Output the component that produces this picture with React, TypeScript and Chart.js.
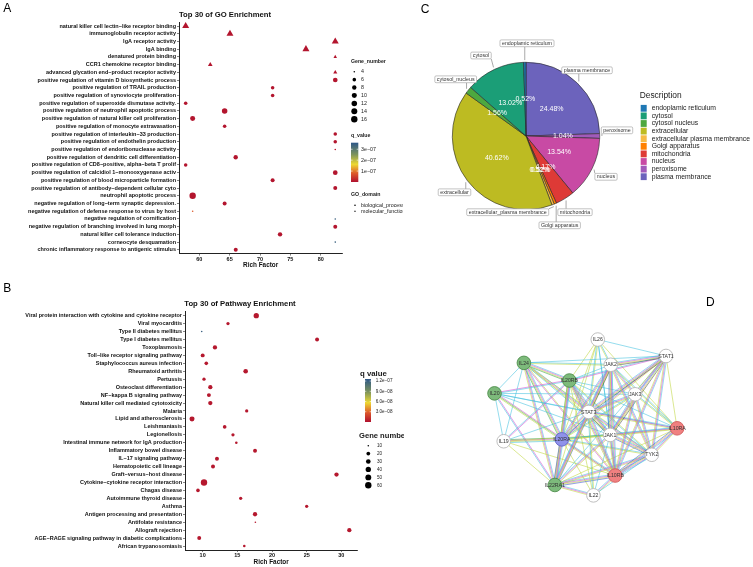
import React, { useEffect, useRef } from 'react';
import { Chart, registerables } from 'chart.js';

Chart.register(...registerables);

const FONT = "'Liberation Sans', Arial, Helvetica, sans-serif";

// ---------------- Panel A : GO enrichment ----------------
const goTerms = [
  'natural killer cell lectin\u2212like receptor binding',
  'immunoglobulin receptor activity',
  'IgA receptor activity',
  'IgA binding',
  'denatured protein binding',
  'CCR1 chemokine receptor binding',
  'advanced glycation end\u2212product receptor activity',
  'positive regulation of vitamin D biosynthetic process',
  'positive regulation of TRAIL production',
  'positive regulation of synoviocyte proliferation',
  'positive regulation of superoxide dismutase activity.',
  'positive regulation of neutrophil apoptotic process',
  'positive regulation of natural killer cell proliferation',
  'positive regulation of monocyte extravasation',
  'positive regulation of interleukin\u221233 production',
  'positive regulation of endothelin production',
  'positive regulation of endoribonuclease activity',
  'positive regulation of dendritic cell differentiation',
  'positive regulation of CD8\u2212positive, alpha\u2212beta T prolif',
  'positive regulation of calcidiol 1\u2212monooxygenase activ',
  'positive regulation of blood microparticle formation',
  'positive regulation of antibody\u2212dependent cellular cyto',
  'neutrophil apoptotic process',
  'negative regulation of long\u2212term synaptic depression.',
  'negative regulation of defense response to virus by host',
  'negative regulation of cornification',
  'negative regulation of branching involved in lung morph',
  'natural killer cell tolerance induction',
  'corneocyte desquamation',
  'chronic inflammatory response to antigenic stimulus',
];
const goRichFactor = [57.75, 65.05, 82.4, 77.57, 82.4, 61.8, 82.4, 82.4, 72.08, 72.08, 57.75, 64.17, 58.9, 64.17, 82.4, 82.4, 82.4, 65.99, 57.75, 82.4, 72.08, 82.4, 58.9, 64.17, 58.9, 82.4, 82.4, 73.3, 82.4, 66.0];
const goGeneNumber = [14, 14, 14, 14, 5, 7, 6, 9, 6, 6, 6, 12, 10, 6, 6, 6, 4, 8, 6, 9, 7, 7, 16, 7, 4, 4, 7, 8, 4, 7];
const goQValue = [5e-9, 5e-9, 5e-9, 5e-9, 5e-9, 5e-9, 5e-9, 5e-9, 5e-9, 5e-9, 5e-9, 5e-9, 5e-9, 5e-9, 5e-9, 5e-9, 8e-9, 5e-9, 5e-9, 5e-9, 5e-9, 5e-9, 5e-9, 5e-9, 8e-8, 3.4e-7, 5e-9, 5e-9, 3.4e-7, 5e-9];
const goDomain = ['MF', 'MF', 'MF', 'MF', 'MF', 'MF', 'MF', 'BP', 'BP', 'BP', 'BP', 'BP', 'BP', 'BP', 'BP', 'BP', 'BP', 'BP', 'BP', 'BP', 'BP', 'BP', 'BP', 'BP', 'BP', 'BP', 'BP', 'BP', 'BP', 'BP'];
const goXTicks = [60, 65, 70, 75, 80];
const goSizeBreaks = [4, 6, 8, 10, 12, 14, 16];
const goQTicks = [3e-7, 2e-7, 1e-7];
const goQTickLabels = ['3e\u221207', '2e\u221207', '1e\u221207'];
const goDomainLabels = ['biological_process', 'molecular_function'];
const GO_Q_MAX = 3.6e-7;

// ---------------- Panel B : pathway enrichment ----------------
const pwTerms = [
  'Viral protein interaction with cytokine and cytokine receptor',
  'Viral myocarditis',
  'Type II diabetes mellitus',
  'Type I diabetes mellitus',
  'Toxoplasmosis',
  'Toll\u2212like receptor signaling pathway',
  'Staphylococcus aureus infection',
  'Rheumatoid arthritis',
  'Pertussis',
  'Osteoclast differentiation',
  'NF\u2212kappa B signaling pathway',
  'Natural killer cell mediated cytotoxicity',
  'Malaria',
  'Lipid and atherosclerosis',
  'Leishmaniasis',
  'Legionellosis',
  'Intestinal immune network for IgA production',
  'Inflammatory bowel disease',
  'IL\u221217 signaling pathway',
  'Hematopoietic cell lineage',
  'Graft\u2212versus\u2212host disease',
  'Cytokine\u2212cytokine receptor interaction',
  'Chagas disease',
  'Autoimmune thyroid disease',
  'Asthma',
  'Antigen processing and presentation',
  'Antifolate resistance',
  'Allograft rejection',
  'AGE\u2212RAGE signaling pathway in diabetic complications',
  'African trypanosomiasis',
];
const pwRichFactor = [17.73, 13.65, 9.86, 26.5, 11.77, 10.0, 10.52, 16.2, 10.19, 11.1, 10.9, 11.1, 16.35, 8.46, 13.17, 14.37, 14.85, 17.55, 12.06, 11.49, 29.3, 10.19, 9.32, 15.48, 25.0, 17.55, 17.6, 31.15, 9.5, 16.0];
const pwGeneNumber = [40, 16, 8, 22, 26, 22, 19, 30, 16, 26, 22, 26, 16, 35, 19, 16, 12, 22, 22, 22, 26, 59, 19, 16, 16, 26, 10, 26, 22, 12];
const pwQValue = [3e-9, 3e-9, 1.2e-7, 3e-9, 3e-9, 3e-9, 3e-9, 3e-9, 3e-9, 3e-9, 3e-9, 3e-9, 3e-9, 3e-9, 3e-9, 3e-9, 3e-9, 3e-9, 3e-9, 3e-9, 3e-9, 3e-9, 3e-9, 3e-9, 3e-9, 3e-9, 3e-9, 3e-9, 3e-9, 3e-9];
const pwXTicks = [10, 15, 20, 25, 30];
const pwSizeBreaks = [10, 20, 30, 40, 50, 60];
const pwQTicks = [1.2e-7, 9e-8, 6e-8, 3e-8];
const pwQTickLabels = ['1.2e\u221207', '9.0e\u221208', '6.0e\u221208', '3.0e\u221208'];
const PW_Q_MAX = 1.26e-7;

// ---------------- Panel C : cellular location pie ----------------
const ccCategories = ['endoplamic reticulum', 'cytosol', 'cytosol nucleus', 'extracellular', 'extracellular plasma membrance', 'Golgi apparatus', 'mitochondria', 'nucleus', 'peroxisome', 'plasma membrance'];
const ccBoxLabels = ['endoplamic reticulum', 'cytosol', 'cytosol_nucleus', 'extracellular', 'extracellular_plasma membrance', 'Golgi apparatus', 'mitochondria', 'nucleus', 'peroxisome', 'plasma membrance'];
const ccPercent = [0.52, 13.02, 1.56, 40.62, 0.52, 0.52, 4.17, 13.54, 1.04, 24.48];
const ccColors = ['#1F78B4', '#1B9E77', '#4DA83F', '#BDBB22', '#F7BB45', '#FF8000', '#DE3A36', '#C84AA4', '#A15BBA', '#6C63BC'];
// label-box layout (page coordinates of box centres)
const ccBoxLayout = [[527, 43.3], [481, 55.5], [455.7, 79.3], [454.5, 192.3], [507.7, 212.2], [559.7, 225.3], [575, 212.2], [606, 176.8], [617, 130.3], [587, 70.3]];

// ---------------- Panel D : PPI network ----------------
const ppiNodes = ['IL26', 'STAT1', 'IL24', 'JAK2', 'IL20RB', 'IL20', 'JAK3', 'STAT3', 'IL10RA', 'JAK1', 'IL19', 'IL20RA', 'TYK2', 'IL10RB', 'IL22RA1', 'IL22'];
const ppiNodeX = [597.3, 669.3, 519.3, 611, 567.3, 488.3, 636.7, 587.7, 681, 610.3, 498, 559.3, 654.3, 615.7, 552, 592.7];
const ppiNodeY = [334.3, 351.7, 359, 361, 377.7, 391.3, 392.3, 411, 428.3, 435.3, 442, 440, 456.3, 478.3, 488.3, 499.3];
const ppiNodeGroup = ['w', 'w', 'g', 'w', 'g', 'g', 'w', 'w', 'r', 'w', 'w', 'b', 'w', 'r', 'g', 'w'];
const ppiEdges = [
  'IL26|STAT1|c', 'IL26|JAK2|cy', 'IL26|IL20RB|y', 'IL26|STAT3|yc', 'IL26|JAK1|c', 'IL26|IL10RB|c', 'IL26|IL20RA|y', 'IL26|IL22RA1|y', 'IL26|IL10RA|y',
  'IL24|STAT1|c', 'IL24|JAK2|cy', 'IL24|IL20RB|cmyg', 'IL24|IL20|c', 'IL24|IL19|c', 'IL24|IL20RA|cmyg', 'IL24|IL22RA1|cmy', 'IL24|STAT3|cmy', 'IL24|JAK1|yc', 'IL24|IL10RB|ym', 'IL24|TYK2|y',
  'IL20|IL20RB|mc', 'IL20|IL20RA|mcy', 'IL20|IL22RA1|mc', 'IL20|STAT3|c', 'IL20|JAK1|c', 'IL20|IL19|c', 'IL20|JAK3|c', 'IL20|IL10RA|c', 'IL20|IL10RB|y',
  'IL19|IL20RB|cm', 'IL19|IL20RA|gmyc', 'IL19|IL22RA1|y', 'IL19|JAK1|y', 'IL19|IL10RB|y', 'IL19|STAT3|c',
  'IL20RB|IL20RA|cmyg', 'IL20RB|IL22RA1|cmy', 'IL20RB|STAT3|cmy', 'IL20RB|JAK1|cmy', 'IL20RB|JAK2|c', 'IL20RB|STAT1|cm', 'IL20RB|IL10RB|cmy', 'IL20RB|TYK2|yc', 'IL20RB|JAK3|c', 'IL20RB|IL10RA|c',
  'IL20RA|STAT3|cmyb', 'IL20RA|JAK1|gy', 'IL20RA|IL22RA1|cmyb', 'IL20RA|IL10RB|cmy', 'IL20RA|JAK2|cmy', 'IL20RA|STAT1|cmy', 'IL20RA|IL22|y', 'IL20RA|TYK2|cy', 'IL20RA|IL10RA|cy', 'IL20RA|JAK3|cy',
  'IL22RA1|STAT3|cmyb', 'IL22RA1|JAK1|cmy', 'IL22RA1|IL10RB|cmyb', 'IL22RA1|IL22|cmy', 'IL22RA1|TYK2|cmy', 'IL22RA1|JAK2|cmy', 'IL22RA1|STAT1|c', 'IL22RA1|IL10RA|y',
  'IL22|IL10RB|cmy', 'IL22|STAT3|cy', 'IL22|JAK1|c', 'IL22|TYK2|c', 'IL22|IL20RB|y',
  'STAT3|JAK1|cmyk', 'STAT3|JAK2|cmyk', 'STAT3|STAT1|cmyk', 'STAT3|JAK3|cmy', 'STAT3|TYK2|cmy', 'STAT3|IL10RA|cmy', 'STAT3|IL10RB|cmy',
  'JAK2|JAK1|cmyb', 'JAK2|STAT1|cmyk', 'JAK2|JAK3|cmy', 'JAK2|TYK2|cmy', 'JAK2|IL10RB|cmy', 'JAK2|IL10RA|cy',
  'JAK1|STAT1|cmyk', 'JAK1|JAK3|cmy', 'JAK1|TYK2|cmyb', 'JAK1|IL10RA|cmy', 'JAK1|IL10RB|cmy',
  'STAT1|JAK3|cmy', 'STAT1|TYK2|cmy', 'STAT1|IL10RA|y', 'STAT1|IL10RB|cmy',
  'JAK3|TYK2|cmy', 'JAK3|IL10RA|cy', 'JAK3|IL10RB|cmy', 'TYK2|IL10RA|cmy', 'TYK2|IL10RB|cmyb', 'IL10RA|IL10RB|cmyb',
];

// ---------------- styles ----------------
const Q_STOPS: [number, string][] = [[0, '#B0102E'], [0.22, '#DD5A2B'], [0.45, '#EDD933'], [0.7, '#7D935B'], [1, '#2D5788']];
const EDGE_COLORS: Record<string, string> = { c: 'rgba(64,192,222,0.8)', y: 'rgba(190,214,60,0.8)', m: 'rgba(210,75,210,0.8)', b: 'rgba(55,85,208,0.8)', g: 'rgba(55,160,65,0.8)', k: 'rgba(50,50,50,0.7)' };
const NODE_FILL: Record<string, string> = { w: '#FFFFFF', g: '#7DBA7B', r: '#F08080', b: '#8F92EA' };
const NODE_STROKE: Record<string, string> = { w: '#B8B8B8', g: '#4E8E4C', r: '#D05A5A', b: '#6568C8' };

function hexRgb(h: string) {
  const n = parseInt(h.slice(1), 16);
  return [(n >> 16) & 255, (n >> 8) & 255, n & 255];
}
function qColor(t: number) {
  t = Math.min(1, Math.max(0, t));
  for (let i = 1; i < Q_STOPS.length; i++) {
    const [p1, c1] = Q_STOPS[i];
    if (t <= p1) {
      const [p0, c0] = Q_STOPS[i - 1];
      const f = (t - p0) / (p1 - p0);
      const a = hexRgb(c0), b = hexRgb(c1);
      return `rgb(${a.map((v, k) => Math.round(v + (b[k] - v) * f)).join(',')})`;
    }
  }
  return Q_STOPS[Q_STOPS.length - 1][1];
}
const rA = (g: number) => 0.8 + 2.4 * Math.sqrt(Math.max(0, g - 4) / 12);
const rB = (g: number) => 0.8 + 2.4 * Math.sqrt(Math.max(0, g - 10) / 50);

function text(ctx: any, s: string, x: number, y: number, size: number, o: any = {}) {
  ctx.save();
  ctx.font = `${o.weight || 'normal'} ${size}px ${FONT}`;
  ctx.fillStyle = o.color || '#1a1a1a';
  ctx.textAlign = o.align || 'left';
  ctx.textBaseline = o.baseline || 'middle';
  ctx.fillText(s, x, y);
  ctx.restore();
}
function dot(ctx: any, x: number, y: number, r: number, color: string) {
  ctx.beginPath();
  ctx.arc(x, y, r, 0, Math.PI * 2);
  ctx.fillStyle = color;
  ctx.fill();
}
function tri(ctx: any, x: number, y: number, r: number, color: string) {
  ctx.beginPath();
  for (let k = 0; k < 3; k++) {
    const a = -Math.PI / 2 + (k * 2 * Math.PI) / 3;
    const px = x + Math.cos(a) * r, py = y + Math.sin(a) * r;
    if (k === 0) ctx.moveTo(px, py); else ctx.lineTo(px, py);
  }
  ctx.closePath();
  ctx.fillStyle = color;
  ctx.fill();
}
function colorbar(ctx: any, x: number, top: number, w: number, h: number, ts: number[]) {
  const g = ctx.createLinearGradient(0, top + h, 0, top);
  Q_STOPS.forEach(([p, c]) => g.addColorStop(p, c));
  ctx.fillStyle = g;
  ctx.fillRect(x, top, w, h);
  ctx.strokeStyle = '#ffffff';
  ctx.lineWidth = 0.6;
  ts.forEach((t) => {
    const y = top + h * (1 - t);
    ctx.beginPath();
    ctx.moveTo(x, y); ctx.lineTo(x + w * 0.22, y);
    ctx.moveTo(x + w * 0.78, y); ctx.lineTo(x + w, y);
    ctx.stroke();
  });
}

function dotChart(canvas: HTMLCanvasElement, p: any) {
  const tickFont = { family: FONT, size: 5.5, weight: 'bold' };
  const grid = { display: true, drawOnChartArea: false, drawTicks: true, tickLength: 2, color: '#333', lineWidth: 0.6 };
  const border = { display: true, color: '#222', width: 1 };
  return new Chart(canvas, {
    type: 'scatter',
    data: {
      datasets: [{
        data: p.terms.map((t: string, i: number) => ({ x: p.rich[i], y: t })),
        pointStyle: (c: any) => p.shape(c.dataIndex),
        pointRadius: (c: any) => p.radius(c.dataIndex),
        pointBackgroundColor: (c: any) => p.color(c.dataIndex),
        pointBorderWidth: 0,
        clip: false,
      }],
    },
    options: {
      responsive: false,
      animation: false,
      events: [],
      layout: { padding: { left: 0, top: p.padTop, right: p.padRight, bottom: p.padBottom } },
      plugins: { legend: { display: false }, tooltip: { enabled: false } },
      scales: {
        x: {
          type: 'linear', min: p.xMin, max: p.xMax,
          afterBuildTicks: (s: any) => { s.ticks = p.xTicks.map((v: number) => ({ value: v })); },
          afterFit: (s: any) => { s.height = p.xHeight; },
          grid, border,
          ticks: { font: tickFont, color: '#111', padding: 0.5, maxRotation: 0 },
          title: { display: true, text: 'Rich Factor', font: { family: FONT, size: 6.4, weight: 'bold' }, color: '#111', padding: { top: 0, bottom: p.titlePad } },
        },
        y: {
          type: 'category', labels: p.terms, offset: true,
          afterFit: (s: any) => { s.width = p.yWidth; },
          grid, border,
          ticks: { font: tickFont, color: '#111', padding: 1, autoSkip: false },
        },
      },
    },
    plugins: [p.decor],
  } as any);
}

export default function App() {
  const aRef = useRef<HTMLCanvasElement>(null);
  const bRef = useRef<HTMLCanvasElement>(null);
  const cRef = useRef<HTMLCanvasElement>(null);
  const dRef = useRef<HTMLCanvasElement>(null);

  useEffect(() => {
    const charts: Chart[] = [];

    // ---- A ----
    const decorA = {
      id: 'decorA',
      afterDraw(chart: any) {
        const ctx = chart.ctx;
        text(ctx, 'A', 3.3, 12.3, 12, { baseline: 'alphabetic', color: '#000' });
        text(ctx, 'Top 30 of GO Enrichment', chart.chartArea.left, 15, 7.7, { weight: 'bold', color: '#111' });
        text(ctx, 'Gene_number', 351, 61.7, 5.2, { weight: 'bold' });
        goSizeBreaks.forEach((g, k) => {
          const y = 71.7 + k * 7.93;
          dot(ctx, 354.3, y, rA(g), '#000');
          text(ctx, String(g), 361, y, 5.3);
        });
        text(ctx, 'q_value', 351, 136, 5.2, { weight: 'bold' });
        colorbar(ctx, 351, 142.7, 7.3, 39.3, goQTicks.map((q) => q / GO_Q_MAX));
        goQTicks.forEach((q, k) => text(ctx, goQTickLabels[k], 361, 142.7 + 39.3 * (1 - q / GO_Q_MAX), 5.3));
        text(ctx, 'GO_domain', 351, 195, 5.2, { weight: 'bold' });
        dot(ctx, 355, 205.3, 0.8, '#000');
        tri(ctx, 355, 211.3, 1.1, '#000');
        text(ctx, goDomainLabels[0], 361, 205.3, 5.3);
        text(ctx, goDomainLabels[1], 361, 211.3, 5.3);
      },
    };
    charts.push(dotChart(aRef.current!, {
      terms: goTerms, rich: goRichFactor,
      shape: (i: number) => (goDomain[i] === 'MF' ? 'triangle' : 'circle'),
      radius: (i: number) => rA(goGeneNumber[i]) * (goDomain[i] === 'MF' ? 1.35 : 1),
      color: (i: number) => qColor(goQValue[i] / GO_Q_MAX),
      xMin: 56.65, xMax: 83.56, xTicks: goXTicks,
      padTop: 22.15, padRight: 403 - 342.3, padBottom: 20, xHeight: 16.35, yWidth: 179, titlePad: 0.5,
      decor: decorA,
    }));

    // ---- B ----
    const decorB = {
      id: 'decorB',
      afterDraw(chart: any) {
        const ctx = chart.ctx;
        text(ctx, 'B', 3.3, 12, 12, { baseline: 'alphabetic', color: '#000' });
        text(ctx, 'Top 30 of Pathway Enrichment', chart.chartArea.left - 0.7, 24, 7.7, { weight: 'bold', color: '#111' });
        text(ctx, 'q value', 360, 94.3, 7.8, { weight: 'bold' });
        colorbar(ctx, 365, 99, 6, 43, pwQTicks.map((q) => q / PW_Q_MAX));
        pwQTicks.forEach((q, k) => text(ctx, pwQTickLabels[k], 375.7, 99 + 43 * (1 - q / PW_Q_MAX), 4.6));
        text(ctx, 'Gene number', 359, 156, 7.6, { weight: 'bold' });
        pwSizeBreaks.forEach((g, k) => {
          const y = 165.7 + k * 7.92;
          dot(ctx, 368.3, y, rB(g), '#000');
          text(ctx, String(g), 377, y, 4.6);
        });
      },
    };
    charts.push(dotChart(bRef.current!, {
      terms: pwTerms, rich: pwRichFactor,
      shape: () => 'circle',
      radius: (i: number) => rB(pwGeneNumber[i]),
      color: (i: number) => qColor(pwQValue[i] / PW_Q_MAX),
      xMin: 7.45, xMax: 32.3, xTicks: pwXTicks,
      padTop: 31.7, padRight: 404 - 357.3, padBottom: 0, xHeight: 17, yWidth: 185, titlePad: 0.9,
      decor: decorB,
    }));

    // ---- C ----
    const order = ccPercent.map((_, i) => i).reverse();
    const decorC = {
      id: 'decorC',
      afterDatasetsDraw(chart: any) {
        const ctx = chart.ctx;
        const meta = chart.getDatasetMeta(0);
        meta.data.forEach((arc: any, j: number) => {
          const i = order[j];
          const { x, y, startAngle, endAngle, outerRadius } = arc.getProps(['x', 'y', 'startAngle', 'endAngle', 'outerRadius'], true);
          const mid = (startAngle + endAngle) / 2;
          text(ctx, `${ccPercent[i].toFixed(2)}%`, x + Math.cos(mid) * outerRadius * 0.5, y + Math.sin(mid) * outerRadius * 0.5, 7, { color: '#ffffff', align: 'center' });
        });
        meta.data.forEach((arc: any, j: number) => {
          const i = order[j];
          const { x, y, startAngle, endAngle, outerRadius } = arc.getProps(['x', 'y', 'startAngle', 'endAngle', 'outerRadius'], true);
          const mid = (startAngle + endAngle) / 2;
          const px = x + Math.cos(mid) * outerRadius * 1.03, py = y + Math.sin(mid) * outerRadius * 1.03;
          const bx = ccBoxLayout[i][0] - 400, by = ccBoxLayout[i][1];
          ctx.save();
          ctx.font = `normal 5.3px ${FONT}`;
          const w = ctx.measureText(ccBoxLabels[i]).width + 4;
          const h = 6.8;
          const l = bx - w / 2, t = by - h / 2;
          const qx = Math.min(Math.max(px, l), l + w), qy = Math.min(Math.max(py, t), t + h);
          ctx.strokeStyle = '#555';
          ctx.lineWidth = 0.5;
          ctx.beginPath(); ctx.moveTo(px, py); ctx.lineTo(qx, qy); ctx.stroke();
          ctx.fillStyle = '#fff';
          ctx.strokeStyle = '#9a9a9a';
          ctx.lineWidth = 0.6;
          ctx.beginPath();
          (ctx as any).roundRect(l, t, w, h, 1.2);
          ctx.fill(); ctx.stroke();
          ctx.restore();
          text(ctx, ccBoxLabels[i], bx, by + 0.2, 5.3, { color: '#333', align: 'center' });
        });
      },
      afterDraw(chart: any) {
        const ctx = chart.ctx;
        text(ctx, 'C', 20.7, 12.7, 12, { baseline: 'alphabetic', color: '#000' });
        text(ctx, 'Description', 239.7, 96, 8.4, { color: '#222' });
        ccCategories.forEach((c, k) => {
          const y = 108.3 + k * 7.6;
          ctx.fillStyle = ccColors[k];
          ctx.fillRect(240.7, y - 3.4, 6, 6.8);
          text(ctx, c, 251.7, y, 6.8, { color: '#222' });
        });
      },
    };
    charts.push(new Chart(cRef.current!, {
      type: 'pie',
      data: {
        labels: order.map((i) => ccCategories[i]),
        datasets: [{
          data: order.map((i) => ccPercent[i]),
          backgroundColor: order.map((i) => ccColors[i]),
          borderColor: '#262626',
          borderWidth: 0.6,
        }],
      },
      options: {
        responsive: false,
        animation: false,
        events: [],
        layout: { padding: { left: 52, right: 153, top: 62, bottom: 80 } },
        plugins: { legend: { display: false }, tooltip: { enabled: false } },
      },
      plugins: [decorC],
    } as any));

    // ---- D ----
    const idx: Record<string, number> = {};
    ppiNodes.forEach((n, i) => { idx[n] = i; });
    const decorD = {
      id: 'decorD',
      beforeDatasetsDraw(chart: any) {
        const ctx = chart.ctx;
        const sx = chart.scales.x, sy = chart.scales.y;
        ctx.save();
        ctx.lineWidth = 0.7;
        ppiEdges.forEach((e) => {
          const [a, b, codes] = e.split('|');
          const x1 = sx.getPixelForValue(ppiNodeX[idx[a]]), y1 = sy.getPixelForValue(ppiNodeY[idx[a]]);
          const x2 = sx.getPixelForValue(ppiNodeX[idx[b]]), y2 = sy.getPixelForValue(ppiNodeY[idx[b]]);
          const len = Math.hypot(x2 - x1, y2 - y1) || 1;
          const nx = -(y2 - y1) / len, ny = (x2 - x1) / len;
          const n = codes.length;
          codes.split('').forEach((c, k) => {
            const off = (k - (n - 1) / 2) * 1.0;
            ctx.strokeStyle = EDGE_COLORS[c];
            ctx.beginPath();
            ctx.moveTo(x1 + nx * off, y1 + ny * off);
            ctx.lineTo(x2 + nx * off, y2 + ny * off);
            ctx.stroke();
          });
        });
        ctx.restore();
      },
      afterDatasetsDraw(chart: any) {
        const ctx = chart.ctx;
        const meta = chart.getDatasetMeta(0);
        meta.data.forEach((pt: any, i: number) => {
          text(ctx, ppiNodes[i], pt.x, pt.y + 0.3, 5.2, { color: '#333', align: 'center' });
        });
      },
      afterDraw(chart: any) {
        text(chart.ctx, 'D', 246, 16, 12, { baseline: 'alphabetic', color: '#000' });
      },
    };
    charts.push(new Chart(dRef.current!, {
      type: 'scatter',
      data: {
        datasets: [{
          data: ppiNodes.map((_, i) => ({ x: ppiNodeX[i], y: ppiNodeY[i] })),
          pointRadius: 6.8,
          pointBackgroundColor: ppiNodeGroup.map((g) => NODE_FILL[g]),
          pointBorderColor: ppiNodeGroup.map((g) => NODE_STROKE[g]),
          pointBorderWidth: 0.9,
          clip: false,
        }],
      },
      options: {
        responsive: false,
        animation: false,
        events: [],
        layout: { padding: 0 },
        plugins: { legend: { display: false }, tooltip: { enabled: false } },
        scales: {
          x: { type: 'linear', display: false, min: 460, max: 753 },
          y: { type: 'linear', display: false, min: 290, max: 567, reverse: true },
        },
      },
      plugins: [decorD],
    } as any));

    return () => charts.forEach((c) => c.destroy());
  }, []);

  return (
    <div style={{ position: 'absolute', left: 0, top: 0, width: 753, height: 567, background: '#ffffff', overflow: 'hidden' }}>
      <canvas ref={aRef} width={403} height={290} style={{ position: 'absolute', left: 0, top: 0 }} />
      <canvas ref={bRef} width={404} height={287} style={{ position: 'absolute', left: 0, top: 280 }} />
      <canvas ref={cRef} width={353} height={290} style={{ position: 'absolute', left: 400, top: 0 }} />
      <canvas ref={dRef} width={293} height={277} style={{ position: 'absolute', left: 460, top: 290 }} />
    </div>
  );
}
